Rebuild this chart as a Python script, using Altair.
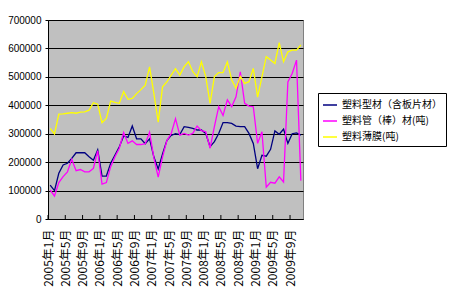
import altair as alt
import pandas as pd

# Category labels: monthly, 2005年1月 .. 2009年11月 (59 months)
years = [2005, 2006, 2007, 2008, 2009]
month_nums = list(range(1, 13))
months = [f"{y}年{m}月" for y in years for m in month_nums][:59]
tick_months = months[::4]

series_names = ["塑料型材（含板片材）", "塑料管（棒）材(吨)", "塑料薄膜(吨)"]

profile = [119, 100, 161, 190, 196, 213, 233, 233, 233, 219, 207, 243,
           151, 151, 196, 225, 254, 292, 287, 327, 282, 282, 265, 282,
           218, 176, 229, 276, 294, 300, 297, 325, 322, 319, 313, 313,
           301, 254, 272, 301, 339, 339, 336, 327, 325, 325, 301, 266,
           177, 224, 221, 245, 310, 298, 316, 266, 300, 303, 295]

pipe = [102, 81, 128, 149, 166, 210, 170, 174, 166, 166, 178, 240,
        123, 128, 184, 219, 249, 304, 266, 275, 262, 262, 265, 305,
        215, 147, 218, 276, 300, 353, 295, 301, 295, 301, 327, 311,
        307, 249, 325, 395, 364, 419, 395, 430, 518, 407, 397, 395,
        266, 307, 112, 129, 126, 148, 130, 482, 512, 559, 135]

film = [319, 299, 369, 370, 372, 374, 372, 376, 377, 383, 409, 404,
        339, 354, 415, 410, 407, 448, 421, 424, 441, 455, 471, 535,
        441, 341, 465, 482, 506, 529, 506, 536, 553, 518, 501, 553,
        501, 407, 501, 515, 515, 553, 489, 460, 501, 477, 483, 530,
        429, 500, 571, 559, 547, 620, 553, 588, 594, 594, 612]

y_ticks = [0, 100000, 200000, 300000, 400000, 500000, 600000, 700000]
colors = ["#000080", "#FF00FF", "#FFFF00"]

rows = []
for name, vals in zip(series_names, [profile, pipe, film]):
    for m, v in zip(months, vals):
        rows.append({"month": m, "series": name, "value": v * 1000})
df = pd.DataFrame(rows)
ticks_df = pd.DataFrame({"month": tick_months})

W, H = 255, 199
half_step = W / len(months) / 2

x_axis = alt.Axis(
    values=tick_months,
    labelAngle=-90,
    labelAlign="right",
    labelBaseline="middle",
    ticks=False,
    labelPadding=10,
    labelOffset=-half_step,
    labelFont="Noto Sans CJK SC",
    labelFontSize=12,
    labelColor="black",
    labelOverlap=False,
    domainColor="black",
    title=None,
    grid=False,
)
x_scale = alt.Scale(type="point", padding=0.5)

lines = alt.Chart(df).mark_line(strokeWidth=1.3).encode(
    x=alt.X("month:O", sort=months, scale=x_scale, axis=x_axis),
    y=alt.Y(
        "value:Q",
        scale=alt.Scale(domain=[0, 700000], nice=False),
        axis=alt.Axis(
            values=y_ticks,
            format="d",
            grid=True,
            gridColor="black",
            gridOpacity=1,
            tickColor="black",
            tickSize=3,
            labelPadding=4,
            labelFont="Liberation Sans",
            labelFontSize=10,
            labelColor="black",
            domainColor="black",
            title=None,
        ),
    ),
    color=alt.Color(
        "series:N",
        scale=alt.Scale(domain=series_names, range=colors),
        legend=alt.Legend(
            orient="none",
            legendX=270,
            legendY=73,
            title=None,
            symbolType="stroke",
            symbolSize=196,
            symbolStrokeWidth=1.5,
            labelFont="Noto Sans CJK SC",
            labelFontSize=10,
            labelColor="black",
            labelLimit=300,
            labelOffset=4,
            strokeColor="black",
            fillColor="white",
            padding=4,
            rowPadding=3,
        ),
    ),
)

tick_marks = alt.Chart(ticks_df).mark_rule(color="black", xOffset=-half_step).encode(
    x=alt.X("month:O", sort=months, scale=x_scale, axis=x_axis),
    y=alt.value(H - 4),
    y2=alt.value(H),
)

chart = alt.layer(lines, tick_marks).properties(
    width=W,
    height=H,
    padding={"left": 48, "top": 20, "right": 147, "bottom": 81},
    autosize="none",
    background="white",
).configure_view(
    fill="#C0C0C0",
    stroke="#808080",
)

chart.save("out.html", embed_options={"renderer": "svg", "actions": False})
